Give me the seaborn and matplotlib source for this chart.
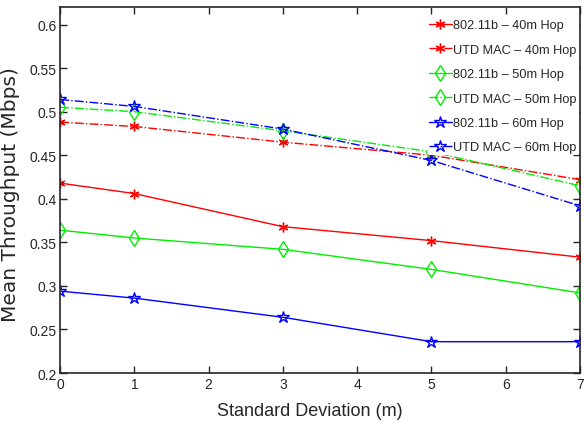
import matplotlib
matplotlib.use("Agg")
import matplotlib.pyplot as plt
import seaborn as sns
import pandas as pd
from matplotlib.ticker import FuncFormatter

x_vals = [0, 1, 3, 5, 7]
b_40 = [0.418, 0.406, 0.368, 0.352, 0.333]
utd_40 = [0.488, 0.483, 0.465, 0.450, 0.422]
b_50 = [0.364, 0.355, 0.342, 0.319, 0.292]
utd_50 = [0.505, 0.500, 0.478, 0.454, 0.415]
b_60 = [0.294, 0.286, 0.264, 0.236, 0.236]
utd_60 = [0.514, 0.506, 0.480, 0.444, 0.392]
labels = ["802.11b \u2013 40m Hop", "UTD MAC \u2013 40m Hop",
          "802.11b \u2013 50m Hop", "UTD MAC \u2013 50m Hop",
          "802.11b \u2013 60m Hop", "UTD MAC \u2013 60m Hop"]
series = [b_40, utd_40, b_50, utd_50, b_60, utd_60]

sns.set_style("ticks")
plt.rcParams["font.family"] = ["Liberation Sans", "DejaVu Sans"]
plt.rcParams["xtick.direction"] = "in"
plt.rcParams["ytick.direction"] = "in"

fig = plt.figure(figsize=(5.84, 4.27), dpi=100)
ax = fig.add_axes([0.103, 0.124, 0.890, 0.857])

colors = ["red", "red", "#00ee00", "#00ee00", "blue", "blue"]
styles = ["-", "-.", "-", "-.", "-", "-."]
markers = [(6, 2, 0), (6, 2, 0), "d", "d", "*", "*"]
msizes = [7, 7, 8, 8, 9, 9]

for ys, lab, c, ls, m, ms in zip(series, labels, colors, styles, markers, msizes):
    df = pd.DataFrame({"x": x_vals, "y": ys})
    sns.lineplot(data=df, x="x", y="y", ax=ax, color=c, linestyle=ls, marker=m,
                 markersize=ms, markerfacecolor="none", markeredgecolor=c,
                 markeredgewidth=1.0, linewidth=1.0, label=lab)

ax.set_xlim(0, 7)
ax.set_ylim(0.2, 0.62)
ax.set_xticks(range(0, 8))
ax.set_yticks([0.2, 0.25, 0.3, 0.35, 0.4, 0.45, 0.5, 0.55, 0.6])
ax.yaxis.set_major_formatter(FuncFormatter(lambda v, p: "%g" % round(v, 2)))
ax.tick_params(labelsize=10, top=True, right=True, length=5, width=1, pad=2.5)
for s in ax.spines.values():
    s.set_visible(True)
    s.set_linewidth(1.2)

ax.set_xlabel("Standard Deviation (m)", fontsize=13)
ax.xaxis.set_label_coords(0.48, -0.078)
ax.set_ylabel("Mean Throughput (Mbps)", fontsize=14.5, family=["DejaVu Sans"])
ax.yaxis.set_label_coords(-0.078, 0.49)

leg = ax.legend(loc="upper right", frameon=True, fontsize=9.2, handlelength=1.8,
                handletextpad=0.1, labelspacing=0.97, borderaxespad=0.1,
                borderpad=0.15, bbox_to_anchor=(1.0, 0.975))
leg.get_frame().set_facecolor("white")
leg.get_frame().set_edgecolor("none")
leg.get_frame().set_alpha(1.0)

fig.savefig("out.png", dpi=100)
